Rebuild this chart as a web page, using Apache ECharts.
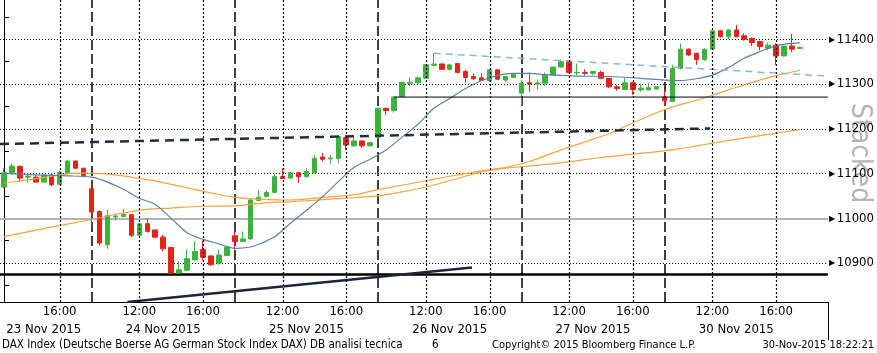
<!DOCTYPE html>
<html>
<head>
<meta charset="utf-8">
<title>DAX Index</title>
<script src="https://cdn.jsdelivr.net/npm/echarts@6/dist/echarts.min.js"></script>
<style>
  html, body { margin: 0; padding: 0; background: #fff; }
  #chart { width: 877px; height: 353px; }
</style>
</head>
<body>
<div id="chart"></div>
<script>
// sessions (30 min bars)
var days = ['23 Nov 2015', '24 Nov 2015', '25 Nov 2015', '26 Nov 2015', '27 Nov 2015', '30 Nov 2015'];
var sessionTimes = ['09:00', '09:30', '10:00', '10:30', '11:00', '11:30', '12:00', '12:30', '13:00',
  '13:30', '14:00', '14:30', '15:00', '15:30', '16:00', '16:30', '17:00', '17:30'];
var firstSlot = '12:30';
var padTimes = ['18:00', '18:30', '19:00'];
var timeLabels = ['12:00', '16:00'];
var minorTimes = ['10:00', '14:00', '18:00'];

// OHLC, one value per bar
var opens = [11070, 11102, 11116, 11092, 11092, 11081, 11097, 11076, 11101, 11128, 11112,
  11066, 11015, 10941, 11003, 11004, 11008, 10962, 10988, 10974, 10958, 10935, 10878, 10884, 10907, 10930, 10916, 10900, 10917,
  10961, 10948, 10954, 11040, 11049, 11058, 11093, 11090, 11102, 11093, 11102, 11137, 11133, 11134, 11180, 11162, 11173, 11162,
  11181, 11246, 11241, 11272, 11302, 11303, 11313, 11342, 11345, 11333, 11346, 11328, 11317, 11314, 11308, 11332, 11309, 11315,
  11280, 11303, 11300, 11302, 11320, 11338, 11350, 11325, 11326, 11324, 11326, 11313, 11294, 11288, 11303, 11287, 11287, 11289,
  11271, 11261, 11335, 11378, 11369, 11355, 11378, 11419, 11406, 11421, 11408, 11402, 11395, 11380, 11387, 11363, 11385, 11380];
var closes = [11102, 11117, 11090, 11094, 11081, 11097, 11075, 11103, 11128, 11112, 11095,
  11014, 10945, 11006, 11005, 11009, 10962, 10988, 10971, 10958, 10932, 10878, 10885, 10910, 10926, 10913, 10896, 10918, 10936,
  10948, 10954, 11041, 11047, 11058, 11093, 11089, 11102, 11093, 11105, 11134, 11132, 11135, 11183, 11164, 11173, 11162, 11169,
  11246, 11241, 11271, 11304, 11304, 11314, 11343, 11345, 11333, 11343, 11326, 11315, 11312, 11308, 11332, 11311, 11317, 11322,
  11302, 11300, 11303, 11320, 11338, 11350, 11326, 11326, 11324, 11328, 11313, 11294, 11290, 11303, 11288, 11291, 11292, 11294,
  11263, 11335, 11378, 11365, 11355, 11378, 11419, 11406, 11421, 11406, 11400, 11393, 11384, 11387, 11363, 11385, 11378, 11382];
var lows = [11067, 11097, 11082, 11080, 11080, 11080, 11072, 11075, 11099, 11111, 11093,
  10985, 10939, 10932, 10995, 11003, 10958, 10960, 10968, 10956, 10926, 10874, 10876, 10882, 10906, 10906, 10894, 10896, 10916,
  10930, 10947, 10952, 11039, 11047, 11056, 11088, 11088, 11079, 11092, 11101, 11127, 11122, 11123, 11153, 11160, 11157, 11161,
  11177, 11231, 11236, 11271, 11296, 11301, 11311, 11339, 11332, 11330, 11324, 11303, 11309, 11307, 11305, 11309, 11305, 11315,
  11250, 11283, 11288, 11296, 11319, 11336, 11324, 11320, 11319, 11320, 11311, 11291, 11285, 11287, 11276, 11283, 11286, 11288,
  11253, 11260, 11333, 11363, 11343, 11352, 11377, 11404, 11400, 11405, 11397, 11385, 11376, 11376, 11343, 11362, 11372, 11378];
var highs = [11112, 11122, 11118, 11101, 11097, 11099, 11101, 11107, 11131, 11129, 11113,
  11068, 11018, 11019, 11008, 11021, 11009, 10989, 11000, 10975, 10963, 10936, 10904, 10930, 10948, 10950, 10917, 10930, 10937,
  10974, 10971, 11043, 11062, 11062, 11099, 11112, 11103, 11103, 11112, 11142, 11146, 11142, 11184, 11183, 11186, 11174, 11170,
  11247, 11247, 11272, 11305, 11315, 11317, 11345, 11369, 11346, 11345, 11347, 11332, 11324, 11324, 11333, 11332, 11318, 11323,
  11309, 11326, 11311, 11326, 11339, 11355, 11352, 11346, 11333, 11329, 11330, 11313, 11298, 11314, 11303, 11300, 11303, 11295,
  11287, 11343, 11391, 11380, 11370, 11380, 11421, 11421, 11422, 11432, 11413, 11405, 11397, 11393, 11391, 11386, 11412, 11384];

// moving averages, read at bar positions
var maFastIdx = [0, 4, 8, 11, 13, 15, 17, 19, 21, 23, 25, 27, 29, 31, 32, 34, 36, 38, 40, 42, 44, 46, 48, 50, 52, 54, 56, 58,
  60, 62, 64, 66, 68, 72, 76, 80, 83, 85, 87, 89, 91, 93, 95, 97, 99, 100];
var maFastVal = [11101, 11097, 11095, 11092, 11081, 11065, 11045, 11031, 11000, 10968, 10953, 10943, 10933, 10936, 10942, 10959,
  10989, 11018, 11048, 11082, 11114, 11132, 11153, 11181, 11210, 11246, 11268, 11290, 11308, 11319, 11324, 11324, 11321, 11318,
  11317, 11313, 11309, 11308, 11312, 11320, 11337, 11358, 11373, 11386, 11391, 11392];
var maMidIdx = [0, 3, 6, 9, 11, 14, 17, 20, 23, 26, 29, 32, 36, 40, 44, 47, 50, 53, 56, 60, 63, 66, 70, 73, 76, 79, 82, 84, 87,
  89, 92, 95, 97, 100];
var maMidVal = [11079, 11086, 11094, 11101, 11101, 11097, 11089, 11080, 11068, 11057, 11047, 11043, 11041, 11047, 11053, 11064,
  11074, 11084, 11094, 11106, 11114, 11127, 11153, 11171, 11189, 11213, 11236, 11249, 11264, 11275, 11293, 11309, 11319, 11331];
var maSlowIdx = [0, 5, 10, 15, 18, 21, 25, 29, 33, 36, 40, 43, 47, 50, 53, 57, 60, 63, 66, 70, 75, 80, 85, 90, 95, 100];
var maSlowVal = [10959, 10977, 10994, 11012, 11020, 11023, 11027, 11028, 11035, 11037, 11042, 11045, 11050, 11059, 11070, 11089,
  11104, 11112, 11117, 11124, 11136, 11145, 11156, 11171, 11185, 11198];

// analyst lines (bar position, level)
var supportLevel = 10876;
var refLevel = 11000;
var riseLine = [[15.5, 10813], [58.8, 10890]];
var dashLine = [[-0.5, 11166], [88.7, 11201]];
var flatLineStart = 49, flatLevel = 11271;
var channelLine = [[54, 11369], [103.5, 11318]];

var yMin = 10813, yMax = 11488;
var yTicks = [10900, 11000, 11100, 11200, 11300, 11400];

var FONT = '"DejaVu Sans Condensed", "DejaVu Sans", sans-serif';

var categories = [];
days.forEach(function (d, i) {
  var start = i === 0 ? sessionTimes.indexOf(firstSlot) : 0;
  sessionTimes.slice(start).forEach(function (t) { categories.push(d + '|' + t); });
});
padTimes.forEach(function (t) { categories.push(days[days.length - 1] + '|' + t); });
var xEnd = categories.length - 0.5;

function timeOf(c) { return c.split('|')[1]; }
function dayOf(c) { return c.split('|')[0]; }

var dotIdx = [], dayIdx = [];
categories.forEach(function (c, i) {
  if (timeLabels.indexOf(timeOf(c)) >= 0) dotIdx.push(i);
  if (timeOf(c) === '09:00') dayIdx.push(i);
});
var dateIdx = days.map(function (d, i) {
  var first = categories.indexOf(d + '|' + (i === 0 ? firstSlot : '09:00'));
  var left = i === 0 ? first - 0.5 : first;
  var right = i < days.length - 1 ? categories.indexOf(days[i + 1] + '|09:00') : first + sessionTimes.length;
  return Math.floor((left + right) / 2);
});

var candles = opens.map(function (o, i) { return [o, closes[i], lows[i], highs[i]]; });

function pairs(idx, val) { return idx.map(function (x, i) { return [x, val[i]]; }); }
function dotted() { return { color: '#000', width: 1, type: [1, 2] }; }

var chart = echarts.init(document.getElementById('chart'));

chart.setOption({
  animation: false,
  backgroundColor: '#fff',
  grid: { left: 0, right: 49, top: 0, bottom: 51 },
  xAxis: [{
    type: 'category',
    data: categories,
    position: 'bottom',
    axisLine: { lineStyle: { color: '#000', width: 1 } },
    axisTick: {
      alignWithLabel: true, length: 4, lineStyle: { color: '#000' },
      interval: function (i, v) { return minorTimes.indexOf(timeOf(v)) >= 0; }
    },
    axisLabel: {
      margin: 3, color: '#000', fontFamily: FONT, fontSize: 13,
      interval: function (i, v) { return timeLabels.indexOf(timeOf(v)) >= 0; },
      formatter: function (v) { return timeOf(v); }
    },
    splitLine: { show: false }
  }, {
    type: 'category',
    data: categories,
    position: 'bottom',
    axisLine: { show: false },
    axisTick: {
      alignWithLabel: true, length: 38, lineStyle: { color: '#000' },
      interval: function (i, v) { return i > 0 && timeOf(v) === '09:00'; }
    },
    axisLabel: {
      margin: 21, color: '#000', fontFamily: FONT, fontSize: 13,
      interval: function (i) { return dateIdx.indexOf(i) >= 0; },
      formatter: function (v) { return dayOf(v); }
    },
    splitLine: { show: false }
  }, {
    type: 'value', min: -0.5, max: xEnd, show: false
  }],
  yAxis: {
    type: 'value',
    position: 'right',
    min: yMin,
    max: yMax,
    axisLine: { show: true, lineStyle: { color: '#000', width: 1 } },
    axisTick: { show: false },
    minorTick: { show: true, splitNumber: 2, length: 5, lineStyle: { color: '#000' } },
    splitLine: { show: false },
    axisLabel: {
      margin: 1, showMinLabel: false, showMaxLabel: false,
      formatter: function (v) { return '{t|\u25B6}{v|' + v + '}'; },
      rich: {
        t: { fontSize: 8, color: '#000', padding: [0, 2, 0, 0] },
        v: { fontSize: 13, color: '#000', fontFamily: FONT }
      }
    }
  },
  series: [{
    name: 'vgrid',
    type: 'custom',
    xAxisIndex: 2,
    z: 20,
    silent: true,
    clip: false,
    encode: { x: 0, y: 1 },
    data: dotIdx.map(function (i) { return [i, yMin]; }),
    renderItem: function (params, api) {
      var p0 = api.coord([api.value(0), yMin]);
      var p1 = api.coord([api.value(0), yMax]);
      var x = Math.round(p0[0]) + 0.5;
      return {
        type: 'line',
        shape: { x1: x, y1: p0[1], x2: x, y2: p1[1] },
        style: { stroke: '#000', lineWidth: 1.2, lineDash: [2, 2], fill: null }
      };
    }
  }, {
    name: 'grid',
    type: 'line',
    xAxisIndex: 2,
    data: [],
    z: 1,
    markLine: {
      z: 1, symbol: ['none', 'none'], silent: true, animation: false, label: { show: false },
      data: [].concat(
        yTicks.map(function (v) { return { yAxis: v, lineStyle: dotted() }; }),
        dayIdx.map(function (i) { return { xAxis: i, lineStyle: { color: '#000', width: 1.5, type: [10, 4] } }; }),
        [{ yAxis: refLevel, lineStyle: { color: '#b3b3b3', width: 2, type: 'solid' } },
         { yAxis: supportLevel, lineStyle: { color: '#000', width: 2.5, type: 'solid' } }]
      )
    }
  }, {
    name: 'DAX',
    type: 'candlestick',
    xAxisIndex: 0,
    z: 2,
    barWidth: 5,
    data: candles,
    itemStyle: {
      color: '#3db33d', color0: '#e8211b',
      borderColor: '#3db33d', borderColor0: '#e8211b', borderWidth: 1
    }
  }, {
    name: 'MA slow', type: 'line', xAxisIndex: 2, z: 3, symbol: 'none', smooth: 0.3,
    data: pairs(maSlowIdx, maSlowVal), lineStyle: { color: '#f3a33f', width: 1.2 }
  }, {
    name: 'MA mid', type: 'line', xAxisIndex: 2, z: 3, symbol: 'none', smooth: 0.3,
    data: pairs(maMidIdx, maMidVal), lineStyle: { color: '#f3a33f', width: 1.2 }
  }, {
    name: 'MA fast', type: 'line', xAxisIndex: 2, z: 3, symbol: 'none', smooth: 0.3,
    data: pairs(maFastIdx, maFastVal), lineStyle: { color: '#5b81aa', width: 1.2 }
  }, {
    name: 'rise', type: 'line', xAxisIndex: 2, z: 4, symbol: 'none',
    data: riseLine, lineStyle: { color: '#1b2735', width: 2.5 }
  }, {
    name: 'dash', type: 'line', xAxisIndex: 2, z: 4, symbol: 'none',
    data: dashLine, lineStyle: { color: '#1f2d3d', width: 2.5, type: [9, 6] }
  }, {
    name: 'flat', type: 'line', xAxisIndex: 2, z: 4, symbol: 'none',
    data: [[flatLineStart, flatLevel], [xEnd, flatLevel]], lineStyle: { color: '#000', width: 1 }
  }, {
    name: 'channel', type: 'line', xAxisIndex: 2, z: 4, symbol: 'none',
    data: channelLine, lineStyle: { color: '#8db4dd', width: 1.5, type: [7, 5] }
  }],
  graphic: [
    { type: 'line', shape: { x1: 828.5, y1: 302, x2: 828.5, y2: 340 }, style: { stroke: '#000', lineWidth: 1 } },
    { type: 'text', x: 859, y: 153, rotation: -Math.PI / 2,
      style: { text: 'Stacked', fontSize: 28, fontFamily: FONT, fill: '#b4b4b4', align: 'center', verticalAlign: 'middle' } },
    { type: 'text', x: 2, y: 345, style: { text: 'DAX Index (Deutsche Boerse AG German Stock Index DAX) DB analisi tecnica',
      fontSize: 11.5, fontFamily: FONT, fill: '#000', verticalAlign: 'middle' } },
    { type: 'text', x: 432, y: 345, style: { text: '6', fontSize: 11.5, fontFamily: FONT, fill: '#000', verticalAlign: 'middle' } },
    { type: 'text', x: 492, y: 345, style: { text: 'Copyright\u00A9 2015 Bloomberg Finance L.P.',
      fontSize: 11, fontFamily: FONT, fill: '#000', verticalAlign: 'middle' } },
    { type: 'text', x: 874, y: 345, style: { text: '30-Nov-2015 18:22:21',
      fontSize: 11, fontFamily: FONT, fill: '#000', align: 'right', verticalAlign: 'middle' } }
  ]
});
</script>
</body>
</html>
